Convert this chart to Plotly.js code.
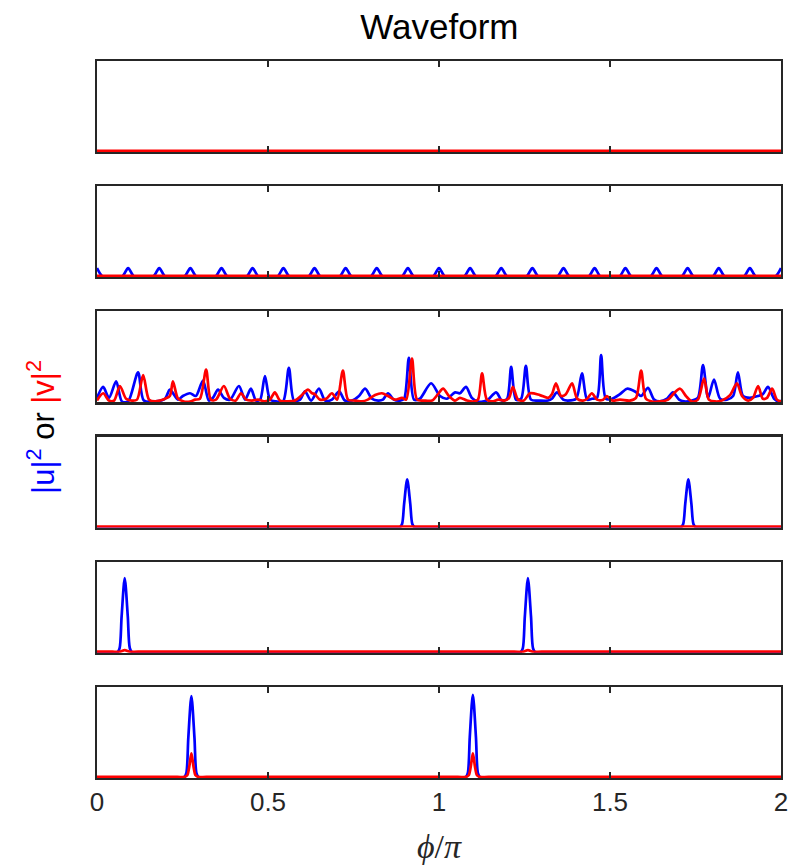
<!DOCTYPE html>
<html>
<head>
<meta charset="utf-8">
<script src="https://cdn.plot.ly/plotly-3.0.1.min.js"></script>
<style>html,body{margin:0;padding:0;background:#fff;}#chart{width:798px;height:865px;}</style>
</head>
<body>
<div id="chart"></div>
<script>
// ---- data (phi/pi on x, intensity on y) ----
const xTicks = [0, 0.5, 1, 1.5, 2];
const xTickText = ['0', '0.5', '1', '1.5', '2'];

// panel 1: flat
const p1x = [0, 2];
const p1u = [0.004, 0.004];
const p1v = [0.012, 0.012];

// panel 2: periodic small bumps in |u|^2
const p2ux = [0, 0.018, 0.073, 0.091, 0.109, 0.164, 0.182, 0.200, 0.255, 0.273, 0.291, 0.346, 0.364, 0.382,
  0.437, 0.455, 0.473, 0.527, 0.545, 0.563, 0.618, 0.636, 0.654, 0.709, 0.727, 0.745, 0.800, 0.818, 0.836,
  0.891, 0.909, 0.927, 0.982, 1.000, 1.018, 1.073, 1.091, 1.109, 1.164, 1.182, 1.200, 1.255, 1.273, 1.291,
  1.346, 1.364, 1.382, 1.437, 1.455, 1.473, 1.527, 1.545, 1.563, 1.618, 1.636, 1.654, 1.709, 1.727, 1.745,
  1.800, 1.818, 1.836, 1.891, 1.909, 1.927, 1.982, 2.000];
const p2uy = [0.10, 0.004, 0.004, 0.10, 0.004, 0.004, 0.10, 0.004, 0.004, 0.10, 0.004, 0.004, 0.10, 0.004,
  0.004, 0.10, 0.004, 0.004, 0.10, 0.004, 0.004, 0.10, 0.004, 0.004, 0.10, 0.004, 0.004, 0.10, 0.004,
  0.004, 0.10, 0.004, 0.004, 0.10, 0.004, 0.004, 0.10, 0.004, 0.004, 0.10, 0.004, 0.004, 0.10, 0.004,
  0.004, 0.10, 0.004, 0.004, 0.10, 0.004, 0.004, 0.10, 0.004, 0.004, 0.10, 0.004, 0.004, 0.10, 0.004,
  0.004, 0.10, 0.004, 0.004, 0.10, 0.004, 0.004, 0.10];
const p2vx = [0, 2];
const p2vy = [0.015, 0.015];

// panel 3: irregular
const p3ux = [0, 0.018, 0.035, 0.056, 0.073, 0.091, 0.120, 0.137, 0.170, 0.199,
  0.213, 0.237, 0.251, 0.272, 0.289, 0.310, 0.327, 0.339, 0.354, 0.371,
  0.389, 0.415, 0.433, 0.450, 0.465, 0.477, 0.491, 0.506, 0.523, 0.544,
  0.561, 0.576, 0.594, 0.608, 0.626, 0.649, 0.667, 0.687, 0.708, 0.725,
  0.746, 0.766, 0.784, 0.804, 0.822, 0.836, 0.851, 0.868, 0.886, 0.898,
  0.912, 0.927, 0.944, 0.977, 1.003, 1.023, 1.047, 1.061, 1.079, 1.096,
  1.114, 1.140, 1.167, 1.184, 1.199, 1.211, 1.225, 1.240, 1.254, 1.269,
  1.295, 1.319, 1.330, 1.345, 1.363, 1.377, 1.401, 1.418, 1.433, 1.447,
  1.462, 1.474, 1.488, 1.506, 1.529, 1.550, 1.573, 1.591, 1.611, 1.629,
  1.646, 1.667, 1.684, 1.702, 1.716, 1.740, 1.757, 1.772, 1.787, 1.804,
  1.822, 1.842, 1.860, 1.874, 1.889, 1.909, 1.933, 1.947, 1.962, 1.980,
  1.994, 2.000];
const p3uy = [0.05, 0.17, 0.05, 0.23, 0.01, 0.01, 0.33, 0.02, 0.01, 0.04,
  0.14, 0.03, 0.07, 0.10, 0.07, 0.24, 0.02, 0.05, 0.14, 0.05,
  0.03, 0.18, 0.03, 0.15, 0.02, 0.03, 0.29, 0.03, 0.01, 0.01,
  0.38, 0.02, 0.03, 0.12, 0.02, 0.15, 0.02, 0.03, 0.12, 0.02,
  0.02, 0.07, 0.15, 0.04, 0.02, 0.03, 0.10, 0.03, 0.02, 0.04,
  0.49, 0.03, 0.04, 0.21, 0.07, 0.04, 0.11, 0.10, 0.17, 0.05,
  0.01, 0.02, 0.11, 0.02, 0.04, 0.39, 0.03, 0.04, 0.40, 0.03,
  0.02, 0.02, 0.04, 0.11, 0.03, 0.02, 0.04, 0.32, 0.03, 0.04,
  0.05, 0.52, 0.04, 0.04, 0.09, 0.15, 0.12, 0.07, 0.16, 0.03,
  0.01, 0.04, 0.11, 0.03, 0.01, 0.02, 0.05, 0.41, 0.05, 0.25,
  0.04, 0.03, 0.07, 0.33, 0.07, 0.05, 0.07, 0.09, 0.17, 0.04,
  0.01, 0.02];
const p3vx = [0, 0.018, 0.035, 0.050, 0.067, 0.085, 0.102, 0.117, 0.135, 0.152,
  0.170, 0.184, 0.199, 0.213, 0.222, 0.237, 0.254, 0.272, 0.287, 0.301,
  0.319, 0.333, 0.348, 0.371, 0.389, 0.406, 0.421, 0.436, 0.453, 0.471,
  0.491, 0.506, 0.520, 0.535, 0.558, 0.579, 0.596, 0.617, 0.629, 0.637,
  0.652, 0.670, 0.687, 0.702, 0.719, 0.734, 0.754, 0.775, 0.792, 0.813,
  0.833, 0.851, 0.871, 0.892, 0.904, 0.921, 0.936, 0.956, 0.980, 0.997,
  1.012, 1.029, 1.047, 1.061, 1.082, 1.102, 1.114, 1.126, 1.140, 1.158,
  1.173, 1.193, 1.205, 1.216, 1.231, 1.248, 1.266, 1.295, 1.319, 1.330,
  1.342, 1.357, 1.371, 1.389, 1.404, 1.421, 1.433, 1.447, 1.462, 1.480,
  1.491, 1.506, 1.529, 1.558, 1.576, 1.591, 1.605, 1.623, 1.646, 1.670,
  1.687, 1.705, 1.722, 1.740, 1.757, 1.775, 1.789, 1.807, 1.827, 1.851,
  1.871, 1.886, 1.904, 1.918, 1.933, 1.947, 1.959, 1.974, 1.988, 2.000];
const p3vy = [0.02, 0.10, 0.02, 0.02, 0.18, 0.04, 0.02, 0.03, 0.30, 0.03,
  0.01, 0.02, 0.04, 0.07, 0.23, 0.04, 0.01, 0.01, 0.03, 0.04,
  0.36, 0.03, 0.03, 0.18, 0.04, 0.02, 0.10, 0.03, 0.02, 0.03,
  0.01, 0.03, 0.11, 0.02, 0.01, 0.02, 0.07, 0.14, 0.10, 0.09,
  0.03, 0.04, 0.10, 0.03, 0.35, 0.03, 0.02, 0.01, 0.03, 0.08,
  0.10, 0.07, 0.03, 0.05, 0.03, 0.48, 0.03, 0.02, 0.02, 0.09,
  0.15, 0.07, 0.02, 0.05, 0.02, 0.01, 0.03, 0.32, 0.03, 0.01,
  0.03, 0.02, 0.05, 0.17, 0.03, 0.02, 0.10, 0.08, 0.05, 0.09,
  0.21, 0.07, 0.09, 0.21, 0.04, 0.02, 0.04, 0.10, 0.03, 0.03,
  0.07, 0.02, 0.03, 0.02, 0.05, 0.35, 0.04, 0.01, 0.01, 0.03,
  0.10, 0.15, 0.07, 0.01, 0.03, 0.26, 0.03, 0.01, 0.02, 0.08,
  0.21, 0.07, 0.02, 0.05, 0.18, 0.04, 0.05, 0.15, 0.03, 0.01];

// panel 4: two pulses in |u|^2
const p4ux = [0, 0.010, 0.870, 0.885, 0.892, 0.898, 0.907, 0.916, 0.922, 0.929, 0.945,
  1.690, 1.707, 1.714, 1.720, 1.729, 1.738, 1.744, 1.751, 1.770, 1.990, 2];
const p4uy = [0.004, 0.004, 0.004, 0.004, 0.04, 0.26, 0.53, 0.26, 0.04, 0.004, 0.004,
  0.004, 0.004, 0.04, 0.26, 0.53, 0.26, 0.04, 0.004, 0.004, 0.004, 0.004];
const p4vx = [0, 2];
const p4vy = [0.012, 0.012];

// panel 5
const p5ux = [0, 0.045, 0.059, 0.066, 0.072, 0.081, 0.090, 0.096, 0.103, 0.120,
  1.220, 1.238, 1.245, 1.251, 1.260, 1.269, 1.275, 1.282, 1.300, 1.990, 2];
const p5uy = [0.004, 0.004, 0.004, 0.05, 0.40, 0.82, 0.40, 0.05, 0.004, 0.004,
  0.004, 0.004, 0.05, 0.40, 0.82, 0.40, 0.05, 0.004, 0.004, 0.004, 0.004];
const p5vx = [0, 0.045, 0.066, 0.081, 0.096, 0.120, 1.220, 1.245, 1.260, 1.275, 1.300, 2];
const p5vy = [0.012, 0.012, 0.012, 0.03, 0.012, 0.012, 0.012, 0.012, 0.03, 0.012, 0.012, 0.012];

// panel 6
const p6ux = [0, 0.010, 0.235, 0.254, 0.261, 0.267, 0.276, 0.285, 0.291, 0.298, 0.320,
  1.055, 1.077, 1.084, 1.090, 1.099, 1.108, 1.114, 1.121, 1.145, 1.990, 2];
const p6uy = [0.004, 0.004, 0.004, 0.004, 0.05, 0.44, 0.90, 0.44, 0.05, 0.004, 0.004,
  0.004, 0.004, 0.05, 0.45, 0.915, 0.45, 0.05, 0.004, 0.004, 0.004, 0.004];
const p6vx = [0, 0.010, 0.235, 0.256, 0.264, 0.270, 0.276, 0.282, 0.288, 0.296, 0.320,
  1.055, 1.079, 1.087, 1.093, 1.099, 1.105, 1.111, 1.119, 1.145, 1.990, 2];
const p6vy = [0.012, 0.012, 0.012, 0.012, 0.03, 0.13, 0.27, 0.13, 0.03, 0.012, 0.012,
  0.012, 0.012, 0.03, 0.13, 0.27, 0.13, 0.03, 0.012, 0.012, 0.012, 0.012];

// ---- build ----
const BLUE = '#0000FF', RED = '#FF0000', AX = '#262626';
const panels = [
  [p1x, p1u, p1x, p1v],
  [p2ux, p2uy, p2vx, p2vy],
  [p3ux, p3uy, p3vx, p3vy],
  [p4ux, p4uy, p4vx, p4vy],
  [p5ux, p5uy, p5vx, p5vy],
  [p6ux, p6uy, p6vx, p6vy]
];
const domains = [[0.873, 1.0], [0.6985, 0.8254], [0.5239, 0.6508], [0.3492, 0.4762], [0.1746, 0.3015], [0.0, 0.1269]];

const traces = [];
const layout = {
  width: 798, height: 865,
  margin: {l: 97, r: 17, t: 61, b: 87},
  paper_bgcolor: '#fff', plot_bgcolor: '#fff',
  showlegend: false,
  font: {family: 'Liberation Sans, Arial, sans-serif', color: AX},
  title: {text: 'Waveform', x: 0.5506, xanchor: 'center', y: 0.969, yanchor: 'middle',
          font: {size: 35, color: '#000', family: 'Liberation Sans, Arial, sans-serif'}},
  annotations: [{
    xref: 'paper', yref: 'paper', x: -0.083, y: 0.49, textangle: -90, showarrow: false,
    xanchor: 'center', yanchor: 'middle',
    text: '<span style="color:#0000FF">|u|<sup>2</sup></span> or <span style="color:#FF0000">|v|<sup>2</sup></span>',
    font: {size: 31, color: '#000', family: 'Liberation Sans, Arial, sans-serif'}
  }]
};

panels.forEach((p, i) => {
  const n = i + 1;
  const xa = n === 1 ? 'x' : 'x' + n;
  const ya = n === 1 ? 'y' : 'y' + n;
  const smooth = i === 0 ? 'linear' : 'spline';
  traces.push({x: p[0], y: p[1], xaxis: xa, yaxis: ya, type: 'scatter', mode: 'lines',
               line: {color: BLUE, width: 2.7, shape: smooth, smoothing: 0.8}, hoverinfo: 'skip'});
  traces.push({x: p[2], y: p[3], xaxis: xa, yaxis: ya, type: 'scatter', mode: 'lines',
               line: {color: RED, width: 2.7, shape: smooth, smoothing: 0.8}, hoverinfo: 'skip'});
  const last = n === 6;
  const xaxis = {
    anchor: ya, domain: [0, 1], range: [0, 2],
    showline: true, linecolor: AX, linewidth: 2.2, mirror: 'ticks',
    ticks: 'inside', ticklen: 6, tickwidth: 2, tickcolor: AX,
    tickvals: xTicks, ticktext: xTickText,
    showticklabels: last, showgrid: false, zeroline: false,
    tickfont: {size: 26, color: AX, family: 'Liberation Sans, Arial, sans-serif'}
  };
  if (last) {
    xaxis.title = {text: '<i>ϕ</i>/<i>π</i>', standoff: 18,
                   font: {size: 34, color: AX, family: 'Liberation Serif, DejaVu Serif, serif'}};
  }
  layout[n === 1 ? 'xaxis' : 'xaxis' + n] = xaxis;
  layout[n === 1 ? 'yaxis' : 'yaxis' + n] = {
    anchor: xa, domain: domains[i], range: [0, 1],
    showline: true, linecolor: AX, linewidth: 2.2, mirror: true,
    ticks: '', showticklabels: false, showgrid: false, zeroline: false
  };
});

Plotly.newPlot('chart', traces, layout, {staticPlot: true, displayModeBar: false});
</script>
</body>
</html>
